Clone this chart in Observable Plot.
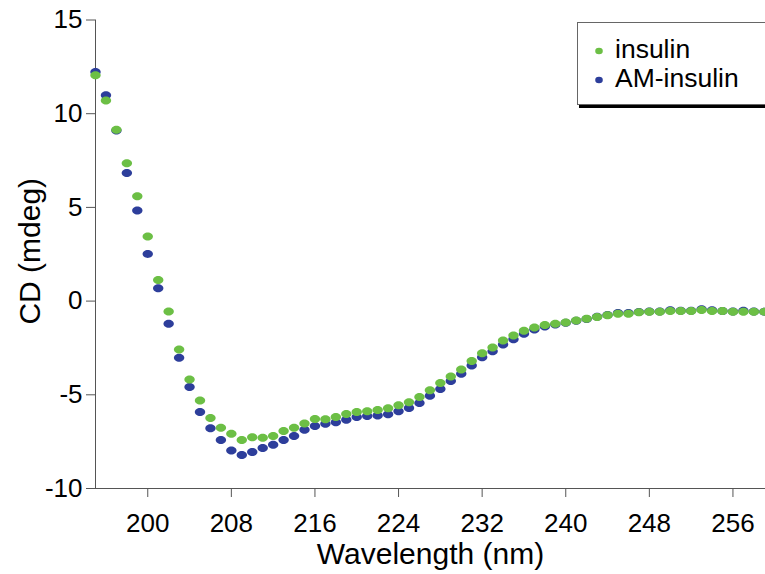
<!DOCTYPE html>
<html>
<head>
<meta charset="utf-8">
<script src="https://cdn.jsdelivr.net/npm/d3@7"></script>
<script src="https://cdn.jsdelivr.net/npm/@observablehq/plot@0.6"></script>
<style>
  html, body { margin: 0; padding: 0; background: #fff; overflow: hidden; }
  #wrap { position: relative; width: 765px; height: 574px; overflow: hidden; font-family: "Liberation Sans", Arial, Helvetica, sans-serif; }
  #legend { position: absolute; left: 577px; top: 22px; width: 210px; height: 81px; border: 1px solid #666; box-shadow: 2px 3px 0 #000; background: #fff; }
</style>
</head>
<body>
<div id="wrap"><div id="legend"></div></div>
<script>
const wavelengths = d3.range(195, 260); // 195..259 nm, 1 nm steps
const insulin = [
  12.05, 10.70, 9.15, 7.35, 5.60, 3.45, 1.12, -0.55, -2.58, -4.18,
  -5.30, -6.24, -6.76, -7.08, -7.41, -7.27, -7.29, -7.20, -6.93, -6.76,
  -6.53, -6.29, -6.31, -6.19, -6.03, -5.92, -5.88, -5.81, -5.72, -5.56,
  -5.40, -5.12, -4.76, -4.37, -4.02, -3.65, -3.20, -2.78, -2.47, -2.10,
  -1.83, -1.58, -1.41, -1.28, -1.21, -1.14, -1.03, -0.94, -0.85, -0.75,
  -0.68, -0.68, -0.60, -0.57, -0.57, -0.53, -0.53, -0.53, -0.48, -0.53,
  -0.53, -0.57, -0.57, -0.57, -0.57
];
const amInsulin = [
  12.23, 10.99, 9.10, 6.84, 4.84, 2.52, 0.68, -1.21, -3.02, -4.59,
  -5.92, -6.79, -7.41, -7.97, -8.21, -8.05, -7.84, -7.66, -7.41, -7.20,
  -6.87, -6.67, -6.54, -6.47, -6.33, -6.19, -6.13, -6.10, -6.04, -5.88,
  -5.71, -5.44, -5.05, -4.69, -4.27, -3.88, -3.43, -2.99, -2.67, -2.31,
  -2.03, -1.74, -1.52, -1.36, -1.25, -1.16, -1.05, -0.95, -0.84, -0.74,
  -0.63, -0.63, -0.58, -0.55, -0.55, -0.49, -0.51, -0.52, -0.44, -0.49,
  -0.53, -0.55, -0.52, -0.56, -0.57
];
const seriesNames = ["insulin", "AM-insulin"];
const seriesColors = ["#6cbf45", "#2d3e9b"];
const xTicks = [200, 208, 216, 224, 232, 240, 248, 256];
const yTicks = [-10, -5, 0, 5, 10, 15];
const xLabel = "Wavelength (nm)";
const yLabel = "CD (mdeg)";

const ellipse = (rx, ry) => ({
  draw(ctx) {
    const k = 0.5523;
    ctx.moveTo(rx, 0);
    ctx.bezierCurveTo(rx, ry * k, rx * k, ry, 0, ry);
    ctx.bezierCurveTo(-rx * k, ry, -rx, ry * k, -rx, 0);
    ctx.bezierCurveTo(-rx, -ry * k, -rx * k, -ry, 0, -ry);
    ctx.bezierCurveTo(rx * k, -ry, rx, -ry * k, rx, 0);
    ctx.closePath();
  }
});

const dataIns = wavelengths.map((w, i) => ({w, v: insulin[i]}));
const dataAM = wavelengths.map((w, i) => ({w, v: amInsulin[i]}));

const chart = Plot.plot({
  width: 765,
  height: 574,
  marginLeft: 95,
  marginRight: 0,
  marginTop: 19.5,
  marginBottom: 86,
  style: {fontFamily: "'Liberation Sans', Arial, Helvetica, sans-serif", fontSize: "26px", color: "#000", background: "#fff", overflow: "hidden"},
  x: {domain: [195, 260], range: [95, 774.25]},
  y: {domain: [-10, 15]},
  marks: [
    Plot.frame({anchor: "left", stroke: "#555"}),
    Plot.frame({anchor: "bottom", stroke: "#555"}),
    Plot.axisY({ticks: yTicks, tickSize: 9, tickPadding: 4, label: null, tickFormat: d => String(d), stroke: "#555", fill: "#000", fontSize: 26}),
    Plot.axisX({ticks: xTicks, tickSize: 9, tickPadding: 16, label: null, tickFormat: d => String(d), stroke: "#555", fill: "#000", fontSize: 26}),
    Plot.dot(dataAM, {x: "w", y: "v", fill: seriesColors[1], stroke: null, symbol: ellipse(5.2, 4)}),
    Plot.dot(dataIns, {x: "w", y: "v", fill: seriesColors[0], stroke: null, symbol: ellipse(5.2, 4)}),
    Plot.text([xLabel], {frameAnchor: "bottom", dy: 66, fontSize: 30, fill: "#000", textAnchor: "middle", lineAnchor: "middle"}),
    Plot.text([yLabel], {frameAnchor: "left", dx: -65, dy: -3, rotate: -90, fontSize: 30, fill: "#000", textAnchor: "middle", lineAnchor: "middle"})
  ]
});
document.getElementById("wrap").insertBefore(chart, document.getElementById("legend"));

// legend
const lg = d3.select("#legend").append("svg").attr("width", 210).attr("height", 81)
  .style("font-family", "'Liberation Sans', Arial, Helvetica, sans-serif");
seriesNames.forEach((name, i) => {
  const cy = 28 + i * 29;
  lg.append("ellipse").attr("cx", 21).attr("cy", cy).attr("rx", 3.8).attr("ry", 3.3).attr("fill", seriesColors[i]);
  lg.append("text").attr("x", 37).attr("y", cy + 7).attr("font-size", 26.5).attr("fill", "#000").text(name);
});
</script>
</body>
</html>
